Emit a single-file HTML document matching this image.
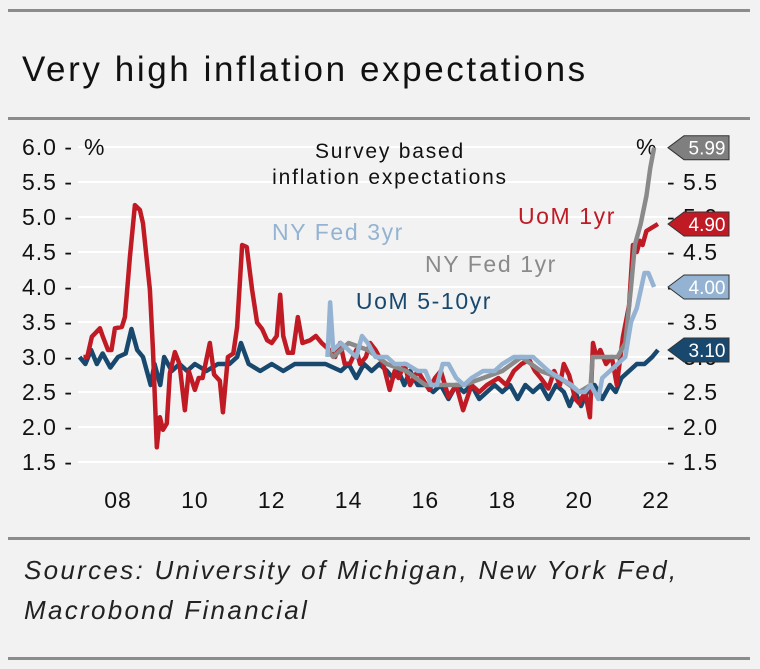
<!DOCTYPE html>
<html><head><meta charset="utf-8"><style>
body{margin:0;background:#fff;}
#wrap{position:relative;width:760px;height:669px;background:#f2f2f2;font-family:"Liberation Sans",sans-serif;overflow:hidden}
.rule{position:absolute;left:8px;width:742px;height:3px;background:#8c8c8c}
</style></head><body>
<div id="wrap">
<div class="rule" style="top:9px"></div>
<div style="position:absolute;left:22px;top:50px;font-size:35px;letter-spacing:2.6px;color:#111">Very high inflation expectations</div>
<div class="rule" style="top:117px"></div>
<svg id="chart" width="760" height="420" style="position:absolute;left:0;top:120px"></svg>
<div class="rule" style="top:537px"></div>
<div style="position:absolute;left:24px;top:550px;font-size:26px;letter-spacing:2.3px;font-style:italic;line-height:40px;color:#222">Sources: University of Michigan, New York Fed,<br>Macrobond Financial</div>
<div class="rule" style="top:657px"></div>
</div>
<script>
const yTicks=[1.5,2.0,2.5,3.0,3.5,4.0,4.5,5.0,5.5,6.0];
const xTicks=[2008,2010,2012,2014,2016,2018,2020,2022];
const xTickLabels=["08","10","12","14","16","18","20","22"];
const uom1Dates=[2007.1,2007.2,2007.32,2007.53,2007.6,2007.74,2007.83,2007.92,2008.1,2008.18,2008.31,2008.44,2008.57,2008.65,2008.83,2008.91,2009.01,2009.09,2009.17,2009.27,2009.35,2009.48,2009.6,2009.74,2009.84,2010.0,2010.1,2010.2,2010.39,2010.5,2010.65,2010.73,2010.86,2011.0,2011.1,2011.23,2011.35,2011.49,2011.62,2011.75,2011.88,2012.0,2012.13,2012.22,2012.3,2012.42,2012.55,2012.68,2012.8,2013.0,2013.15,2013.3,2013.5,2013.65,2013.78,2013.9,2014.04,2014.2,2014.3,2014.45,2014.56,2014.7,2014.9,2015.07,2015.2,2015.3,2015.45,2015.6,2015.8,2016.1,2016.25,2016.4,2016.6,2016.8,2016.98,2017.2,2017.4,2017.6,2017.9,2018.1,2018.3,2018.5,2018.7,2018.85,2019.0,2019.2,2019.35,2019.5,2019.6,2019.74,2019.9,2020.0,2020.15,2020.28,2020.36,2020.45,2020.55,2020.7,2020.85,2020.98,2021.14,2021.3,2021.4,2021.5,2021.58,2021.65,2021.75,2021.9,2022.05];
const uom1Vals=[3.0,3.0,3.29,3.41,3.3,3.1,3.1,3.41,3.43,3.57,4.43,5.17,5.1,4.91,3.96,3.1,1.71,2.14,1.96,2.05,2.77,3.07,2.9,2.24,2.8,2.53,2.7,2.7,3.2,2.75,2.66,2.21,3.0,3.05,3.43,4.6,4.57,3.96,3.49,3.4,3.24,3.2,3.3,3.89,3.3,3.06,3.06,3.57,3.2,3.24,3.3,3.2,3.1,3.0,3.2,2.9,2.91,3.1,2.9,3.0,3.2,3.1,2.9,2.53,2.8,2.7,2.9,2.6,2.8,2.53,2.7,2.8,2.43,2.6,2.24,2.6,2.5,2.6,2.7,2.6,2.8,2.9,2.96,2.8,2.7,2.55,2.8,2.6,2.9,2.74,2.4,2.34,2.5,2.14,3.2,3.0,3.1,2.9,3.0,2.6,3.29,3.74,4.6,4.5,4.66,4.6,4.8,4.85,4.9];
const uom510Dates=[2007.0,2007.15,2007.3,2007.45,2007.6,2007.8,2008.0,2008.2,2008.35,2008.5,2008.65,2008.85,2008.95,2009.1,2009.2,2009.4,2009.6,2009.8,2010.0,2010.3,2010.6,2010.9,2011.1,2011.2,2011.4,2011.7,2012.0,2012.3,2012.6,2013.0,2013.4,2013.8,2014.0,2014.2,2014.4,2014.6,2014.8,2015.0,2015.15,2015.3,2015.45,2015.6,2015.8,2016.0,2016.2,2016.4,2016.6,2016.8,2017.0,2017.2,2017.4,2017.6,2017.8,2018.0,2018.2,2018.4,2018.6,2018.8,2019.0,2019.2,2019.4,2019.6,2019.75,2019.9,2020.05,2020.2,2020.4,2020.6,2020.8,2020.95,2021.1,2021.3,2021.5,2021.7,2021.9,2022.05];
const uom510Vals=[3.0,2.9,3.1,2.9,3.05,2.85,3.0,3.05,3.4,3.1,3.0,2.6,2.9,2.6,3.0,2.8,2.9,2.8,2.9,2.8,2.9,2.9,3.0,3.2,2.9,2.8,2.9,2.8,2.9,2.9,2.9,2.8,2.9,2.7,2.9,2.8,2.9,2.8,2.7,2.8,2.6,2.8,2.6,2.6,2.5,2.6,2.4,2.6,2.5,2.6,2.4,2.5,2.6,2.5,2.6,2.4,2.6,2.5,2.6,2.4,2.6,2.5,2.3,2.5,2.3,2.5,2.6,2.4,2.6,2.5,2.7,2.8,2.9,2.9,3.0,3.1];
const nyf3Dates=[2013.45,2013.52,2013.6,2013.8,2014.0,2014.2,2014.35,2014.5,2014.7,2015.0,2015.2,2015.5,2015.8,2016.0,2016.15,2016.3,2016.45,2016.6,2016.8,2017.0,2017.2,2017.5,2017.8,2018.0,2018.3,2018.5,2018.8,2019.0,2019.2,2019.5,2019.8,2020.0,2020.15,2020.3,2020.5,2020.6,2020.8,2021.0,2021.2,2021.35,2021.5,2021.7,2021.8,2021.95];
const nyf3Vals=[3.0,3.78,3.1,3.2,3.1,3.0,3.3,3.2,3.0,3.0,2.9,2.9,2.8,2.8,2.6,2.6,2.9,2.9,2.7,2.6,2.7,2.8,2.8,2.9,3.0,3.0,3.0,2.9,2.8,2.7,2.6,2.5,2.5,2.6,2.4,2.7,2.8,2.9,3.0,3.5,3.7,4.2,4.2,4.0];
const nyf1Dates=[2013.45,2013.6,2014.0,2014.5,2015.0,2015.5,2016.0,2016.5,2017.0,2017.5,2018.0,2018.5,2019.0,2019.5,2020.0,2020.3,2020.35,2020.6,2021.0,2021.2,2021.35,2021.45,2021.6,2021.75,2021.85,2021.95];
const nyf1Vals=[3.1,3.0,3.2,3.1,2.9,2.8,2.6,2.6,2.6,2.7,2.8,3.0,2.8,2.7,2.5,2.6,3.0,3.0,3.0,3.2,4.0,4.6,4.9,5.3,5.7,5.99];
const lastLabels=["5.99","4.90","4.00","3.10"];
const lastVals=[5.99,4.90,4.00,3.10];

const NS="http://www.w3.org/2000/svg";const svg=document.getElementById('chart');const OY=120;
function y(v){return 147+(6-v)*70-OY;}
function x(t){return 118+(t-2008)*38.43;}
function el(tag,a,txt){const e=document.createElementNS(NS,tag);for(const k in a)e.setAttribute(k,a[k]);if(txt!==undefined)e.textContent=txt;svg.appendChild(e);return e;}
yTicks.forEach(v=>{
 const g=el('line',{x1:78,x2:668,y1:y(v),y2:y(v),stroke:'#fff','stroke-width':2});
 
 
 const l=el('text',{x:22,y:y(v)+8,'font-size':23,'letter-spacing':1,fill:'#111'},v.toFixed(1)+' -');
 
 
 if(v<6){const r=el('text',{x:667,y:y(v)+8,'font-size':23,'letter-spacing':1,fill:'#111'},'- '+v.toFixed(1));
 
 }
});
const pl=el('text',{x:84,y:y(6)+8,'font-size':23,fill:'#111'},'%');


const pr=el('text',{x:636,y:y(6)+8,'font-size':23,fill:'#111'},'%');


xTicks.forEach((t,i)=>{
 const l=el('text',{x:x(t),y:388,'font-size':23,'letter-spacing':1,fill:'#111','text-anchor':'middle'},xTickLabels[i]);
 
 
});
function series(d,v,c,name){
 const p=el('polyline',{points:d.map((t,i)=>x(t)+','+y(v[i])).join(' '),fill:'none',stroke:c,'stroke-width':4.5,'stroke-linejoin':'round'});
 
 
}
series(uom510Dates,uom510Vals,'#18486d','uom-5-10yr-line');
series(uom1Dates,uom1Vals,'#c01a24','uom-1yr-line');
series(nyf1Dates,nyf1Vals,'#8a8a8a','ny-fed-1yr-line');
series(nyf3Dates,nyf3Vals,'#94b3d2','ny-fed-3yr-line');
const colors=['#7f7f7f','#c01a24','#94b3d2','#18486d'];
lastVals.forEach((v,i)=>{
 const cy=y(v);
 const b=el('path',{d:`M668 ${cy} L684 ${cy-12} L729 ${cy-12} L729 ${cy+12} L684 ${cy+12} Z`,fill:colors[i],stroke:'#333','stroke-width':1});
 
 
 const t=el('text',{x:707,y:cy+7,'font-size':19,fill:'#fff','text-anchor':'middle'},lastLabels[i]);
 
 
});
[['Survey based',390,158,'#111','survey-subtitle'],['inflation expectations',390,184,'#111','survey-subtitle-2'],['NY Fed 3yr',338,240,'#94b3d2','ny-fed-3yr-label'],['UoM 1yr',567,224,'#c01a24','uom-1yr-label'],['NY Fed 1yr',491,272,'#8a8a8a','ny-fed-1yr-label'],['UoM 5-10yr',424,309,'#18486d','uom-5-10yr-label']].forEach(a=>{
 const t=el('text',{x:a[1],y:a[2]-OY,'font-size':a[3]=='#111'?21:23,'letter-spacing':a[3]=='#111'?1.8:1.6,fill:a[3],'text-anchor':'middle'},a[0]);
 
 
});
</script>
</body></html>
